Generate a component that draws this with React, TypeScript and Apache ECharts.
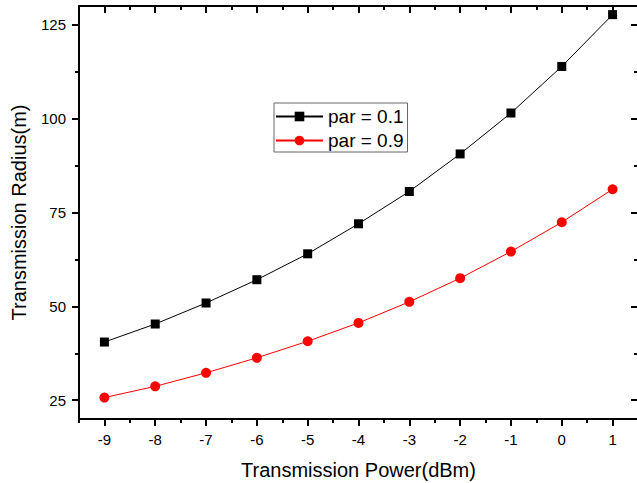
import React, { useEffect, useRef } from "react";
import * as echarts from "echarts";

const xValues = [-9, -8, -7, -6, -5, -4, -3, -2, -1, 0, 1];
const par01 = [40.5, 45.3, 50.9, 57.1, 64.0, 72.0, 80.6, 90.6, 101.5, 113.9, 127.7];
const par09 = [25.7, 28.7, 32.3, 36.3, 40.7, 45.6, 51.2, 57.5, 64.6, 72.4, 81.2];
const xMajorTicks = [-9, -8, -7, -6, -5, -4, -3, -2, -1, 0, 1];
const xMinorTicks = [-9.5, -8.5, -7.5, -6.5, -5.5, -4.5, -3.5, -2.5, -1.5, -0.5, 0.5, 1.5];
const yMajorTicks = [25, 50, 75, 100, 125];
const yMinorTicks = [37.5, 62.5, 87.5, 112.5];

const FONT = "'Liberation Sans', Arial, sans-serif";

export default function App() {
  const ref = useRef<HTMLDivElement>(null);
  useEffect(() => {
    if (!ref.current) return;
    const chart = echarts.init(ref.current, null, { renderer: "svg" });
    const black = "#000";
    const xBase = { type: "value", min: -9.5, max: 1.5, splitLine: { show: false } };
    const yBase = { type: "value", min: 20, max: 130, splitLine: { show: false } };
    chart.setOption({
      animation: false,
      backgroundColor: "#fff",
      textStyle: { fontFamily: FONT },
      grid: { left: 79, right: -1, top: 6, bottom: 64, containLabel: false, outerBoundsMode: "none" },
      legend: {
        left: 274,
        top: 103,
        orient: "vertical",
        backgroundColor: "#fff",
        borderColor: "#666",
        borderWidth: 1,
        borderRadius: 0,
        padding: [4, 4, 2, 1],
        itemWidth: 47,
        itemHeight: 12,
        itemGap: 5,
        textStyle: { fontFamily: FONT, fontSize: 19, color: black },
        data: ["par = 0.1", "par = 0.9"],
      },
      xAxis: [
        {
          ...xBase,
          position: "bottom",
          name: "Transmission Power(dBm)",
          nameLocation: "middle",
          nameGap: 41,
          nameTextStyle: { fontFamily: FONT, fontSize: 20, color: black },
          axisLine: { show: true, onZero: false, lineStyle: { color: black, width: 2 } },
          axisTick: { show: true, inside: false, length: 7, lineStyle: { color: black, width: 2 }, customValues: xMajorTicks },
          axisLabel: { show: true, customValues: xMajorTicks, margin: 13, fontFamily: FONT, fontSize: 15, color: black },
        },
        {
          ...xBase,
          position: "bottom",
          axisLine: { show: false, onZero: false },
          axisTick: { show: true, inside: false, length: 4, lineStyle: { color: black, width: 2 }, customValues: xMinorTicks },
          axisLabel: { show: false },
        },
        {
          ...xBase,
          position: "top",
          axisLine: { show: true, onZero: false, lineStyle: { color: black, width: 2 } },
          axisTick: { show: true, inside: true, length: 7, lineStyle: { color: black, width: 2 }, customValues: xMajorTicks },
          axisLabel: { show: false },
        },
        {
          ...xBase,
          position: "top",
          axisLine: { show: false, onZero: false },
          axisTick: { show: true, inside: true, length: 4, lineStyle: { color: black, width: 2 }, customValues: xMinorTicks },
          axisLabel: { show: false },
        },
      ],
      yAxis: [
        {
          ...yBase,
          position: "left",
          name: "Transmission Radius(m)",
          nameLocation: "middle",
          nameGap: 50,
          nameTextStyle: { fontFamily: FONT, fontSize: 20, color: black },
          axisLine: { show: true, onZero: false, lineStyle: { color: black, width: 2 } },
          axisTick: { show: true, inside: false, length: 7, lineStyle: { color: black, width: 2 }, customValues: yMajorTicks },
          axisLabel: { show: true, customValues: yMajorTicks, margin: 13, fontFamily: FONT, fontSize: 15, color: black },
        },
        {
          ...yBase,
          position: "left",
          axisLine: { show: false, onZero: false },
          axisTick: { show: true, inside: false, length: 4, lineStyle: { color: black, width: 2 }, customValues: yMinorTicks },
          axisLabel: { show: false },
        },
        {
          ...yBase,
          position: "right",
          axisLine: { show: true, onZero: false, lineStyle: { color: black, width: 2 } },
          axisTick: { show: true, inside: true, length: 7, lineStyle: { color: black, width: 2 }, customValues: yMajorTicks },
          axisLabel: { show: false },
        },
        {
          ...yBase,
          position: "right",
          axisLine: { show: false, onZero: false },
          axisTick: { show: true, inside: true, length: 4, lineStyle: { color: black, width: 2 }, customValues: yMinorTicks },
          axisLabel: { show: false },
        },
      ],
      series: [
        {
          name: "par = 0.1",
          type: "line",
          xAxisIndex: 0,
          yAxisIndex: 0,
          data: xValues.map((x, i) => [x, par01[i]]),
          symbol: "rect",
          symbolSize: 9,
          lineStyle: { color: black, width: 1 },
          itemStyle: { color: black },
        },
        {
          name: "par = 0.9",
          type: "line",
          xAxisIndex: 0,
          yAxisIndex: 0,
          data: xValues.map((x, i) => [x, par09[i]]),
          symbol: "circle",
          symbolSize: 10,
          lineStyle: { color: "#ff0000", width: 1 },
          itemStyle: { color: "#ff0000" },
        },
      ],
    });
    return () => chart.dispose();
  }, []);
  return (
    <div
      ref={ref}
      style={{ position: "absolute", left: 0, top: 0, width: 637, height: 483, background: "#fff" }}
    />
  );
}
